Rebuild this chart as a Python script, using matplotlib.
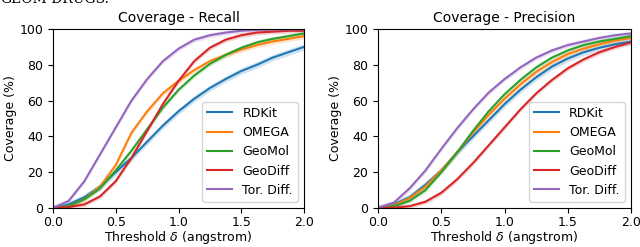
import numpy as np
import matplotlib
matplotlib.use("Agg")
from matplotlib import pyplot as plt

# thresholds (angstrom)
thresholds = np.arange(0, 2.0001, 0.125)

methods = ["RDKit", "OMEGA", "GeoMol", "GeoDiff", "Tor. Diff."]
colors = ["#1f77b4", "#ff7f0e", "#2ca02c", "#d62728", "#9467bd"]

# Coverage - Recall (%)
recall_rdkit = [0, 2, 6, 12, 20, 28, 37, 46, 54, 61, 67, 72, 76.5, 80, 84, 87, 90]
recall_omega = [0, 1, 5, 12, 24, 42, 54, 64, 71, 77, 82, 85.5, 88.5, 91, 93, 94.5, 96]
recall_geomol = [0, 1, 5, 11, 21, 32, 44, 56, 66, 74, 80.5, 85.5, 89.5, 92.5, 94.5, 96, 97.5]
recall_geodiff = [0, 0.5, 2, 6.5, 15, 28, 43, 58, 71, 82, 89.5, 94, 96.5, 98, 98.5, 99, 99]
recall_tordiff = [0, 4, 15, 30, 45, 60, 72, 82, 89, 94, 96.5, 98, 99, 99.5, 99.7, 99.8, 99.9]

# Coverage - Precision (%)
prec_rdkit = [0, 2, 6, 13, 21, 31, 40, 49, 58, 66, 73, 79, 83.5, 87, 89.5, 91.5, 93]
prec_omega = [0, 1.5, 5.5, 12, 21, 31, 42, 52, 61, 69, 76, 81.5, 86, 89, 91.5, 93.5, 95]
prec_geomol = [0, 1, 4, 10, 20, 31, 43, 54, 63.5, 71.5, 78.5, 84, 88, 91, 93, 94.5, 96]
prec_geodiff = [0, 0.2, 1, 3.5, 8.5, 16, 25, 35, 45, 55, 64, 71.5, 78, 83, 87, 90, 92.5]
prec_tordiff = [0, 3, 11, 21, 33, 44.5, 55, 64.5, 72, 78.5, 84, 88, 91, 93, 95, 96.5, 97.5]

# half width of shaded band (%)
band = [1.8, 1.5, 1.3, 1.3, 1.3]

recall = [recall_rdkit, recall_omega, recall_geomol, recall_geodiff, recall_tordiff]
precision = [prec_rdkit, prec_omega, prec_geomol, prec_geodiff, prec_tordiff]

plt.rcParams["font.size"] = 9
plt.rcParams["xtick.major.pad"] = 2.5
fig = plt.figure(figsize=(6.4, 2.47), dpi=100)
ax1 = fig.add_axes([53/640, 39/247, 251/640, 179/247])
ax2 = fig.add_axes([378/640, 39/247, 253/640, 179/247])

for ax, data, title in [(ax1, recall, "Coverage - Recall"), (ax2, precision, "Coverage - Precision")]:
    for name, c, y, b in zip(methods, colors, data, band):
        y = np.array(y)
        ax.fill_between(thresholds, np.maximum(y - b, 0), np.minimum(y + b, 100), color=c, alpha=0.2, lw=0)
        ax.plot(thresholds, y, color=c, lw=1.5, label=name)
    ax.set_xlim(0, 2)
    ax.set_ylim(0, 100)
    ax.set_title(title, fontsize=10, pad=5)
    ax.set_xlabel(r"Threshold $\delta$ (angstrom)", labelpad=0)
    ax.set_ylabel("Coverage (%)", labelpad=2)
    ax.legend(loc="lower right", fontsize=9, handlelength=2)

fig.text(0.0, 1.003, "GEOM-DRUGS.", family="DejaVu Serif", fontsize=10, va="center", ha="left")

plt.savefig("out.png", dpi=100)
